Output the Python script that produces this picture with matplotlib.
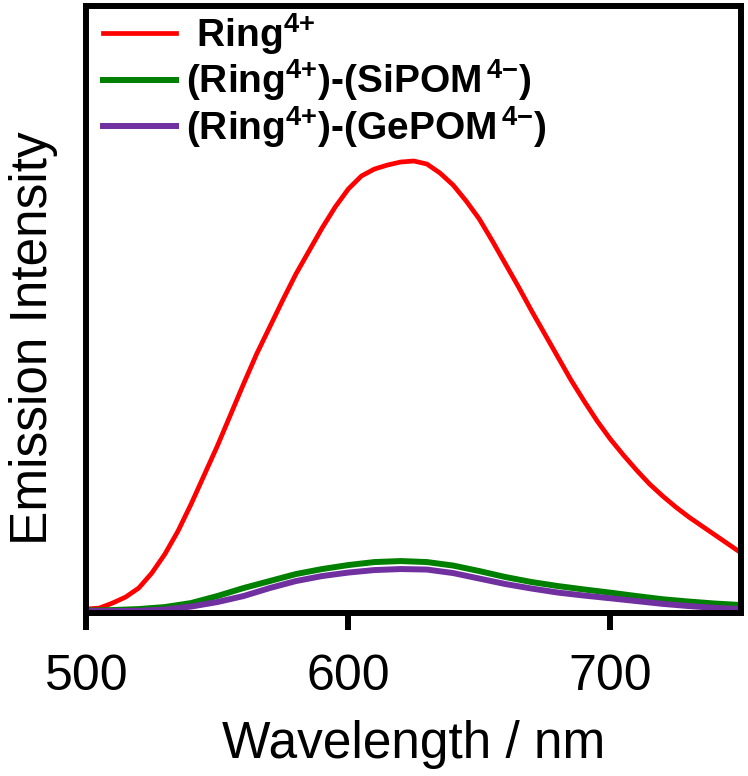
import matplotlib
matplotlib.use('Agg')
import matplotlib.pyplot as plt

plt.rcParams['font.family'] = ['Liberation Sans', 'DejaVu Sans']
plt.rcParams['mathtext.fontset'] = 'custom'
plt.rcParams['mathtext.rm'] = 'Liberation Sans:bold'
plt.rcParams['mathtext.bf'] = 'Liberation Sans:bold'
plt.rcParams['mathtext.it'] = 'Liberation Sans:bold'

# Wellenlängen (nm) und Emissionsintensität (normiert, Ring4+ Maximum = 1)
wl_ring = [500, 505, 510, 515, 520, 525, 530, 535, 540, 545, 550, 555, 560,
           565, 570, 575, 580, 585, 590, 595, 600, 605, 610, 615, 620, 625,
           630, 635, 640, 645, 650, 655, 660, 665, 670, 675, 680, 685, 690,
           695, 700, 705, 710, 715, 720, 725, 730, 735, 740, 745, 750]
ring_px = [2, 3, 8, 14, 23, 38, 57, 80, 107, 136, 165, 196, 227, 257, 284,
           311, 337, 360, 383, 404, 422, 435, 442, 446, 449, 450, 447, 438,
           426, 410, 392, 370, 347, 324, 300, 277, 254, 231, 210, 190, 172,
           156, 141, 127, 115, 104, 94, 85, 76, 67, 58]

wl_pom = [500, 510, 520, 530, 540, 550, 560, 570, 580, 590, 600, 610, 620,
          630, 640, 650, 660, 670, 680, 690, 700, 710, 720, 730, 740, 750]
si_px = [0.5, 1, 2, 4, 8, 15, 23, 30, 37, 42, 46, 49, 50, 49, 45.5, 40, 34,
         29, 25, 21.6, 18.4, 15, 11.8, 9.5, 7.5, 6]
ge_px = [0, 0, 0.2, 1.5, 4.5, 9, 15, 23, 30, 35, 38.5, 41, 42, 41.5, 38, 32.5,
         27, 22.5, 18.5, 15.5, 12.8, 10, 7.2, 5, 3.2, 2]

ring = [v / 450 for v in ring_px]
si_pom = [v / 450 for v in si_px]
ge_pom = [v / 450 for v in ge_px]

labels = [r' Ring$^{4{+}}$',
          r'(Ring$^{4{+}}$)-(SiPOM$^{\,4{-}}$)',
          r'(Ring$^{4{+}}$)-(GePOM$^{\,4{-}}$)']

fig = plt.figure(figsize=(7.48, 7.76), dpi=100)
ax = fig.add_axes([0.1154, 0.210, 0.8756, 0.7819])

ax.plot(wl_ring, ring, color='#ff0000', lw=3.4, label=labels[0])
ax.plot(wl_pom, si_pom, color='#008000', lw=4.3, label=labels[1])
ax.plot(wl_pom, ge_pom, color='#7030a0', lw=4.3, label=labels[2])

ax.set_xlim(500, 750)
ax.set_ylim(-0.0044, 1.3438)
ax.set_xticks([500, 600, 700])
ax.set_yticks([])
for s in ax.spines.values():
    s.set_linewidth(4.3)
ax.tick_params(axis='x', direction='out', length=12.5, width=4.3,
               labelsize=36, pad=17)

ax.set_xlabel('Wavelength / nm', fontsize=37)
ax.xaxis.set_label_coords(0.5, -0.1765)
ax.set_ylabel('Emission Intensity', fontsize=37)
ax.yaxis.set_label_coords(-0.0432, 0.4525)

ax.legend(loc='upper left', bbox_to_anchor=(0.1377, 0.9858),
          bbox_transform=fig.transFigure, frameon=False, borderpad=0,
          borderaxespad=0, handlelength=1.88, handletextpad=0.26,
          labelspacing=0.02, prop={'weight': 'bold', 'size': 28})

fig.savefig('out.png', dpi=100)
